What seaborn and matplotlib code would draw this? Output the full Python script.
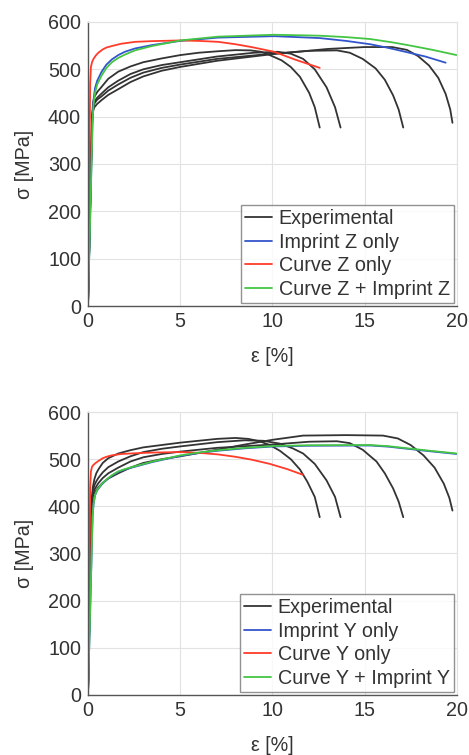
import pandas as pd
import seaborn as sns
import matplotlib.pyplot as plt

# ---- top panel (Z direction): strain [%], stress [MPa] ----
z_exp1_e = [0, 0.22, 0.28, 0.35, 0.5, 0.74, 1.1, 1.64, 2.3, 3, 4, 5, 6, 7, 8, 8.8, 9.4, 9.86, 10.5, 11, 11.5, 12, 12.3, 12.57]
z_exp1_s = [0, 400, 430, 442, 452, 463, 480, 495, 506, 515, 523, 530, 535, 538, 540.5, 540, 537, 530, 519, 505, 484, 450, 420, 377]
z_exp2_e = [0, 0.22, 0.28, 0.35, 0.5, 0.74, 1.1, 1.64, 2.3, 3, 4, 5, 7, 9, 10.3, 11, 11.67, 12.3, 12.94, 13.4, 13.7]
z_exp2_s = [0, 395, 422, 432, 440, 449, 462, 476, 490, 500, 509, 515, 527, 535, 537, 533, 522, 500, 462, 420, 377]
z_exp3_e = [0, 0.22, 0.28, 0.35, 0.5, 0.74, 1.1, 1.64, 2.3, 3, 4, 5, 7, 10, 12, 13.5, 14.2, 14.9, 15.6, 16.1, 16.55, 16.85, 17.1]
z_exp3_s = [0, 390, 418, 428, 436, 443, 455, 468, 482, 493, 503, 510, 522, 533, 539, 540, 535, 522, 502, 478, 445, 415, 377]
z_exp4_e = [0, 0.22, 0.28, 0.35, 0.5, 0.74, 1.1, 1.64, 2.3, 3, 4, 5, 7, 10, 13, 15, 16.5, 17.3, 17.9, 18.5, 19, 19.4, 19.65, 19.77]
z_exp4_s = [0, 385, 412, 420, 427, 435, 446, 458, 473, 485, 497, 505, 518, 532, 543, 547, 547, 541, 528, 508, 482, 448, 415, 387]

z_imp_e = [0, 0.25, 0.3, 0.38, 0.5, 0.74, 1.0, 1.3, 1.64, 2.0, 2.55, 3.45, 5, 7.07, 10.1, 12.57, 14, 15.3, 16.2, 17.1, 18.3, 19.4]
z_imp_s = [0, 400, 435, 460, 476, 495, 510, 521, 530, 537, 544, 551, 560, 567, 570, 566, 560, 553, 546, 538, 527, 514]
z_crv_e = [0, 0.12, 0.16, 0.22, 0.3, 0.42, 0.56, 0.8, 1.0, 1.28, 1.8, 2.55, 3.45, 5, 6, 7.07, 8, 8.87, 10.1, 11.2, 12.57]
z_crv_s = [0, 470, 505, 515, 522, 529, 535, 542, 546, 549, 554, 558, 559.5, 561, 560, 558, 553, 547, 537, 521, 503]
z_both_e = [0, 0.25, 0.3, 0.38, 0.5, 0.74, 1.0, 1.3, 1.64, 2.0, 2.55, 3.45, 5, 7.07, 10.1, 12.57, 14, 15.3, 16.5, 17.5, 18.7, 20]
z_both_s = [0, 390, 425, 450, 468, 487, 503, 515, 524, 531, 540, 549, 561, 569, 573, 571, 568, 564, 557, 550, 541, 530]

# ---- bottom panel (Y direction) ----
y_exp1_e = [0, 0.2, 0.26, 0.35, 0.45, 0.56, 0.8, 1.1, 1.64, 2.3, 3, 4, 5, 6, 7, 8, 8.7, 9.3, 9.86, 10.4, 11, 11.5, 11.9, 12.3, 12.57]
y_exp1_s = [0, 410, 440, 458, 470, 478, 492, 502, 512, 519, 525, 530, 535, 539, 543, 545, 543, 538, 530, 518, 500, 478, 452, 420, 377]
y_exp2_e = [0, 0.2, 0.26, 0.35, 0.45, 0.56, 0.8, 1.1, 1.64, 2.3, 3, 4, 5, 7, 8.5, 9.5, 10.4, 11.1, 11.67, 12.3, 12.94, 13.4, 13.7]
y_exp2_s = [0, 405, 432, 445, 453, 460, 472, 483, 495, 506, 515, 522, 527, 536, 540, 539, 533, 523, 512, 490, 455, 420, 377]
y_exp3_e = [0, 0.2, 0.26, 0.35, 0.45, 0.56, 0.8, 1.1, 1.64, 2.3, 3, 4, 5, 7, 10, 12, 13.5, 14.2, 14.9, 15.65, 16.1, 16.55, 16.85, 17.1]
y_exp3_s = [0, 400, 425, 435, 442, 449, 460, 470, 482, 495, 504, 511, 516, 524, 531, 537, 538, 534, 520, 495, 470, 438, 410, 377]
y_exp4_e = [0, 0.2, 0.26, 0.35, 0.45, 0.56, 0.8, 1.1, 1.64, 2.3, 3, 4, 5, 7, 8.5, 10, 11.67, 14, 16, 16.8, 17.5, 18.2, 18.8, 19.3, 19.6, 19.77]
y_exp4_s = [0, 395, 420, 428, 434, 440, 450, 459, 470, 482, 492, 500, 506, 520, 531, 541, 550, 551, 550, 544, 530, 508, 482, 448, 418, 391]

y_imp_e = [0, 0.25, 0.3, 0.38, 0.5, 0.74, 1.0, 1.3, 1.64, 2.0, 2.55, 3.5, 5, 6, 7.07, 8.5, 10.1, 12, 15.3, 16.3, 17.1, 18.5, 20]
y_imp_s = [0, 379, 404, 423, 434, 446, 456, 465, 473, 478, 484, 494, 507, 513, 518, 523, 527, 528.5, 529, 526.5, 523, 517, 511]
y_crv_e = [0, 0.12, 0.16, 0.22, 0.3, 0.42, 0.56, 0.8, 1.0, 1.28, 1.8, 2.55, 3.5, 5, 6, 7.07, 8, 8.87, 9.86, 10.8, 11.65]
y_crv_s = [0, 440, 474, 484, 488, 492, 496, 502, 505, 508, 511, 512.5, 514, 515, 513.5, 510, 505, 499, 490, 479, 467]
y_both_e = [0, 0.25, 0.3, 0.38, 0.5, 0.74, 1.0, 1.3, 1.64, 2.0, 2.55, 3.5, 5, 6, 7.07, 8.5, 10.1, 12, 15.3, 16.3, 17.1, 18.5, 20]
y_both_s = [0, 380, 405, 424, 435, 447, 457, 466, 474, 479, 485, 495, 508, 514, 519, 524, 528, 529.5, 530, 527.5, 524, 518, 512]

colors = {'exp': '#333333', 'imp': '#3355cc', 'crv': '#ff3b2a', 'both': '#44c544'}


def make_df(curves):
    rows = []
    for name, kind, e, s in curves:
        for ei, si in zip(e, s):
            rows.append((name, kind, ei, si))
    return pd.DataFrame(rows, columns=['curve', 'kind', 'strain', 'stress'])


top = make_df([
    ('e1', 'exp', z_exp1_e, z_exp1_s), ('e2', 'exp', z_exp2_e, z_exp2_s),
    ('e3', 'exp', z_exp3_e, z_exp3_s), ('e4', 'exp', z_exp4_e, z_exp4_s),
    ('imp', 'imp', z_imp_e, z_imp_s), ('crv', 'crv', z_crv_e, z_crv_s),
    ('both', 'both', z_both_e, z_both_s),
])
bottom = make_df([
    ('e1', 'exp', y_exp1_e, y_exp1_s), ('e2', 'exp', y_exp2_e, y_exp2_s),
    ('e3', 'exp', y_exp3_e, y_exp3_s), ('e4', 'exp', y_exp4_e, y_exp4_s),
    ('imp', 'imp', y_imp_e, y_imp_s), ('crv', 'crv', y_crv_e, y_crv_s),
    ('both', 'both', y_both_e, y_both_s),
])

sns.set_style('whitegrid')
plt.rcParams['font.family'] = ['Liberation Sans', 'DejaVu Sans']

fig = plt.figure(figsize=(4.69, 7.55), dpi=100)
ax1 = fig.add_axes([0.1876, 0.5947, 0.7862, 0.3762])
ax2 = fig.add_axes([0.1876, 0.0795, 0.7862, 0.3748])

fs = 14.2
txt = '#333333'

for ax, df, d in [(ax1, top, 'Z'), (ax2, bottom, 'Y')]:
    labels = {'exp': 'Experimental', 'imp': f'Imprint {d} only',
              'crv': f'Curve {d} only', 'both': f'Curve {d} + Imprint {d}'}
    for kind in ['exp', 'imp', 'crv', 'both']:
        sub = df[df['kind'] == kind]
        first = True
        for name, g in sub.groupby('curve', sort=False):
            sns.lineplot(data=g, x='strain', y='stress', ax=ax, sort=False,
                         estimator=None, color=colors[kind], lw=1.3,
                         label=labels[kind] if first else None)
            first = False
    ax.set_xlim(0, 20)
    ax.set_ylim(0, 600)
    ax.set_xticks([0, 5, 10, 15, 20])
    ax.set_yticks([0, 100, 200, 300, 400, 500, 600])
    ax.grid(True, color='#e2e2e2', lw=0.8)
    for side in ['top', 'right']:
        ax.spines[side].set_color('#e2e2e2')
    for side in ['left', 'bottom']:
        ax.spines[side].set_color('#555555')
        ax.spines[side].set_linewidth(1.0)
    ax.tick_params(axis='both', labelsize=fs, colors=txt, length=0)
    ax.tick_params(axis='x', pad=4)
    ax.tick_params(axis='y', pad=5)
    ax.set_xlabel('ε [%]', fontsize=fs, color=txt, labelpad=12)
    ax.set_ylabel('σ [MPa]', fontsize=fs, color=txt, labelpad=10)
    leg = ax.legend(loc='lower right', fontsize=fs, frameon=True, fancybox=False,
                    handlelength=1.35, handletextpad=0.35, borderpad=0.2,
                    labelspacing=0.24, borderaxespad=0.15)
    leg.get_frame().set_edgecolor('#777777')
    leg.get_frame().set_linewidth(1.0)
    for t in leg.get_texts():
        t.set_color(txt)

fig.savefig('out.png', dpi=100)
